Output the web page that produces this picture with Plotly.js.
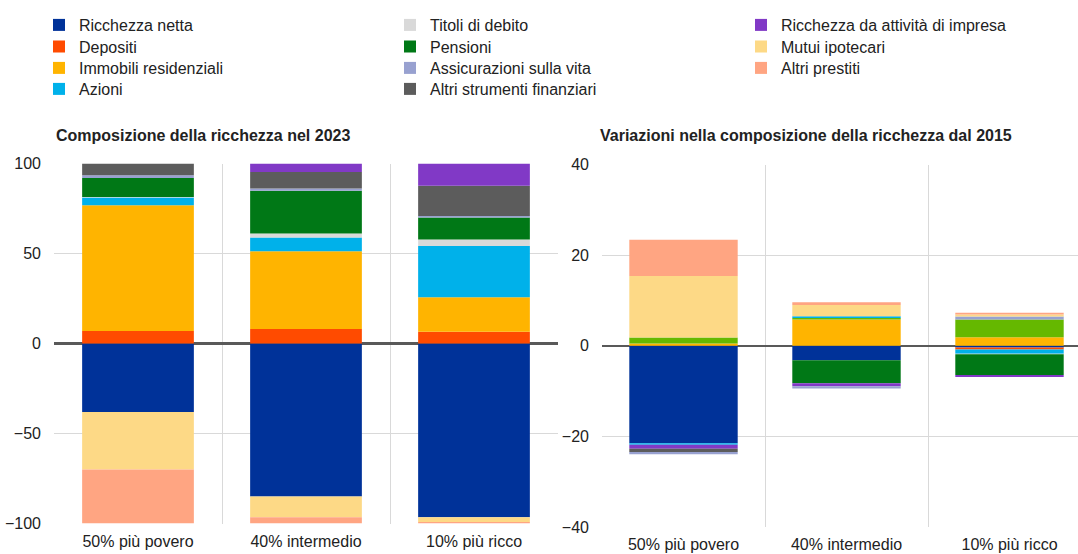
<!DOCTYPE html>
<html>
<head>
<meta charset="utf-8">
<script src="https://cdn.plot.ly/plotly-3.0.1.min.js"></script>
<style>html,body{margin:0;padding:0;background:#fff;}#chart{width:1078px;height:554px;}</style>
</head>
<body>
<div id="chart"></div>
<script>
// Categories
const categories = ["50% più povero", "40% intermedio", "10% più ricco"];

// Left panel: Composizione della ricchezza nel 2023 (%)
const ricchezzaNetta2023 = [-38, -85, -96.5];
const depositi2023 = [7, 8, 6.5];
const immobili2023 = [69.8, 43.3, 19.2];
const azioni2023 = [4.3, 7.6, 28.4];
const titoli2023 = [0.3, 2.2, 3.7];
const pensioni2023 = [10.5, 23.7, 12.2];
const assicurazioni2023 = [1.6, 1.3, 0.8];
const altriStrumenti2023 = [6.5, 9.2, 16.8];
const impresa2023 = [0, 4.7, 12.4];
const mutui2023 = [-32, -11.5, -2.7];
const altriPrestiti2023 = [-30, -3.5, -0.8];

// Right panel: Variazioni nella composizione della ricchezza dal 2015 (p.p.)
const ricchezzaNettaVar = [-21.5, -3.2, -0.4];
const depositiVar = [0, 0, -0.4];
const immobiliVar = [0.5, 5.8, 1.9];
const altroVar = [1.3, 0.35, 3.9];
const azioniVar = [-0.35, 0.35, -0.95];
const titoliVar = [0, 0, -0.15];
const pensioniVar = [0, -5.1, -4.55];
const impresaVar = [-0.9, -0.66, -0.45];
const altriStrumentiVar = [-0.7, 0, 0];
const assicurazioniVar = [-0.5, -0.45, 0.66];
const mutuiVar = [13.6, 2.5, 0.45];
const altriPrestitiVar = [8.0, 0.6, 0.37];

const C = {
  rn: "#003299", dep: "#ff4b00", imm: "#ffb400", az: "#00b1ea", tit: "#d9d9d9",
  pen: "#007816", ass: "#98a1d0", alt: "#5c5c5c", imp: "#8139c6", mut: "#fdd986",
  pre: "#ffa582", altro: "#65b800"
};

function bar(name, y, color, axis, legend, showlegend) {
  return {
    type: "bar", name: name, x: categories, y: y,
    xaxis: axis === 1 ? "x" : "x2", yaxis: axis === 1 ? "y" : "y2",
    marker: {color: color, line: {width: 0}},
    legend: legend, showlegend: showlegend,
    hovertemplate: "%{x}: %{y}<extra>" + name + "</extra>"
  };
}

const traces = [
  // Left panel (legend source); order = stacking order
  bar("Ricchezza netta", ricchezzaNetta2023, C.rn, 1, "legend", true),
  bar("Depositi", depositi2023, C.dep, 1, "legend2", true),
  bar("Immobili residenziali", immobili2023, C.imm, 1, "legend3", true),
  bar("Azioni", azioni2023, C.az, 1, "legend4", true),
  bar("Titoli di debito", titoli2023, C.tit, 1, "legend", true),
  bar("Pensioni", pensioni2023, C.pen, 1, "legend2", true),
  bar("Assicurazioni sulla vita", assicurazioni2023, C.ass, 1, "legend3", true),
  bar("Altri strumenti finanziari", altriStrumenti2023, C.alt, 1, "legend4", true),
  bar("Ricchezza da attività di impresa", impresa2023, C.imp, 1, "legend", true),
  bar("Mutui ipotecari", mutui2023, C.mut, 1, "legend2", true),
  bar("Altri prestiti", altriPrestiti2023, C.pre, 1, "legend3", true),
  // Right panel
  bar("Ricchezza netta", ricchezzaNettaVar, C.rn, 2, "legend", false),
  bar("Depositi", depositiVar, C.dep, 2, "legend", false),
  bar("Immobili residenziali", immobiliVar, C.imm, 2, "legend", false),
  bar("Altro", altroVar, C.altro, 2, "legend", false),
  bar("Azioni", azioniVar, C.az, 2, "legend", false),
  bar("Titoli di debito", titoliVar, C.tit, 2, "legend", false),
  bar("Pensioni", pensioniVar, C.pen, 2, "legend", false),
  bar("Ricchezza da attività di impresa", impresaVar, C.imp, 2, "legend", false),
  bar("Altri strumenti finanziari", altriStrumentiVar, C.alt, 2, "legend", false),
  bar("Assicurazioni sulla vita", assicurazioniVar, C.ass, 2, "legend", false),
  bar("Mutui ipotecari", mutuiVar, C.mut, 2, "legend", false),
  bar("Altri prestiti", altriPrestitiVar, C.pre, 2, "legend", false)
];

const W = 1078, H = 554;
const px = v => v / W;
const py = v => (H - v) / H;
const FAM = "Liberation Sans, Arial, sans-serif";
const font = {family: FAM, size: 16, color: "#222"};

function leg(top) {
  return {
    orientation: "h", xanchor: "left", yanchor: "top", traceorder: "normal",
    entrywidth: 306, entrywidthmode: "pixels",
    x: px(39), y: py(top),
    font: {family: FAM, size: 16, color: "#222"}, bgcolor: "rgba(0,0,0,0)",
    itemclick: false, itemdoubleclick: false
  };
}

const axX = {
  type: "category", tickson: "boundaries", showgrid: true, gridcolor: "#d9d9d9", gridwidth: 1,
  ticks: "", showline: false, zeroline: false, tickfont: font, ticklabelstandoff: 6, fixedrange: true
};
const axY = {
  showgrid: true, gridcolor: "#d9d9d9", gridwidth: 1, zeroline: true, zerolinecolor: "#595959",
  zerolinewidth: 2.5, ticks: "", showline: false, tickfont: font, ticklabelstandoff: 12, fixedrange: true
};

const layout = {
  width: W, height: H,
  margin: {l: 0, r: 0, t: 0, b: 0, autoexpand: false},
  paper_bgcolor: "#fff", plot_bgcolor: "#fff",
  barmode: "relative", bargap: 0.335,
  font: font,
  showlegend: true,
  legend: leg(8),
  legend2: leg(29.5),
  legend3: leg(51),
  legend4: leg(72),
  xaxis: Object.assign({}, axX, {domain: [px(54), px(558)], anchor: "y", range: [-0.5, 2.5]}),
  yaxis: Object.assign({}, axY, {domain: [py(523.5), py(163.5)], anchor: "x", range: [-100, 100], tickvals: [-100, -50, 0, 50, 100]}),
  xaxis2: Object.assign({}, axX, {domain: [px(602), 1], anchor: "y2", range: [-0.5, -0.5 + 476 / 163]}),
  yaxis2: Object.assign({}, axY, {domain: [py(527), py(164.5)], anchor: "x2", range: [-40, 40], tickvals: [-40, -20, 0, 20, 40]}),
  annotations: [
    {text: "<b>Composizione della ricchezza nel 2023</b>", xref: "paper", yref: "paper",
     x: px(54), y: py(135), xanchor: "left", yanchor: "middle", showarrow: false,
     font: {family: FAM, size: 16, color: "#222"}},
    {text: "<b>Variazioni nella composizione della ricchezza dal 2015</b>", xref: "paper", yref: "paper",
     x: px(598), y: py(135), xanchor: "left", yanchor: "middle", showarrow: false,
     font: {family: FAM, size: 16, color: "#222"}}
  ]
};

Plotly.newPlot("chart", traces, layout, {displayModeBar: false, staticPlot: true});
</script>
</body>
</html>
